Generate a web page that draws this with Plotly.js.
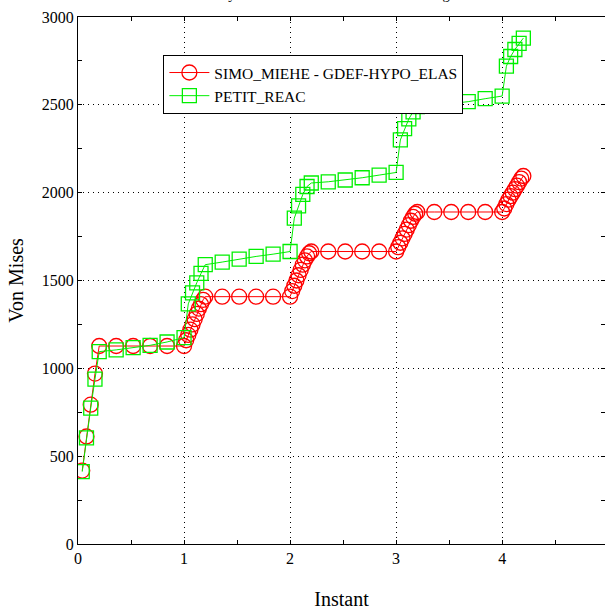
<!DOCTYPE html>
<html>
<head>
<meta charset="utf-8">
<script src="https://cdn.plot.ly/plotly-3.0.1.min.js"></script>
<style>html,body{margin:0;padding:0;background:#fff;}#chart{width:605px;height:610px;}</style>
</head>
<body>
<div id="chart"></div>
<script>
// SIMO_MIEHE - GDEF-HYPO_ELAS
var simoInstant = [0.04,0.08,0.12,0.16,0.2,0.36,0.52,0.68,0.84,1.0,
  1.02,1.04,1.06,1.08,1.1,1.12,1.14,1.16,1.18,1.2,1.36,1.52,1.68,1.84,2.0,
  2.02,2.04,2.06,2.08,2.1,2.12,2.14,2.16,2.18,2.2,2.36,2.52,2.68,2.84,3.0,
  3.02,3.04,3.06,3.08,3.1,3.12,3.14,3.16,3.18,3.2,3.36,3.52,3.68,3.84,4.0,
  4.02,4.04,4.06,4.08,4.1,4.12,4.14,4.16,4.18,4.2];
var simoVonMises = [418,612,793,970,1127,1127,1127,1127,1127,1127,
  1160,1190,1220,1250,1280,1310,1340,1365,1390,1408,1408,1408,1408,1408,1408,
  1440,1470,1500,1530,1560,1590,1615,1637,1655,1665,1665,1665,1665,1665,1665,
  1690,1715,1740,1765,1790,1815,1840,1862,1880,1890,1890,1890,1890,1890,1890,
  1910,1935,1960,1980,2000,2020,2040,2060,2080,2095];
// PETIT_REAC
var petitInstant = [0.04,0.08,0.12,0.16,0.2,0.36,0.52,0.68,0.84,1.0,
  1.04,1.08,1.12,1.16,1.2,1.36,1.52,1.68,1.84,2.0,
  2.04,2.08,2.12,2.16,2.2,2.36,2.52,2.68,2.84,3.0,
  3.04,3.08,3.12,3.16,3.2,3.36,3.52,3.68,3.84,4.0,
  4.04,4.08,4.12,4.16,4.2];
var petitVonMises = [412,604,774,939,1095,1105,1118,1131,1150,1175,
  1367,1430,1487,1540,1590,1605,1622,1637,1650,1665,
  1855,1925,1990,2035,2055,2062,2072,2085,2100,2115,
  2300,2365,2420,2460,2490,2497,2507,2518,2535,2550,
  2720,2775,2815,2850,2880];
var xTicks = [0,1,2,3,4];
var yTicks = [0,500,1000,1500,2000,2500,3000];

var serif = 'Liberation Serif, Times New Roman, serif';
var traces = [
  {x: simoInstant, y: simoVonMises, name: 'SIMO_MIEHE - GDEF-HYPO_ELAS', mode: 'lines+markers',
   line: {color: '#ff0000', width: 1},
   marker: {symbol: 'circle-open', size: 15, color: '#ff0000', line: {width: 1.3, color: '#ff0000'}}},
  {x: petitInstant, y: petitVonMises, name: 'PETIT_REAC', mode: 'lines+markers',
   line: {color: '#00f000', width: 1},
   marker: {symbol: 'square-open', size: 14, color: '#00f000', line: {width: 1.3, color: '#00f000'}}}
];
var layout = {
  width: 605, height: 610,
  margin: {l: 78, r: 0, t: 17, b: 66},
  paper_bgcolor: '#fff', plot_bgcolor: '#fff',
  font: {family: serif, size: 16, color: '#000'},
  showlegend: true,
  legend: {x: 0.162, y: 0.928, xanchor: 'left', yanchor: 'top', bgcolor: '#fff',
    bordercolor: '#000', borderwidth: 1, font: {family: serif, size: 15.5, color: '#000'},
    tracegroupgap: 0, itemwidth: 40},
  xaxis: {range: [0, 4.97], tickvals: xTicks, ticktext: xTicks.map(String),
    ticks: 'inside', ticklen: 4, tickcolor: '#000', showline: true, linecolor: '#000', linewidth: 1,
    mirror: 'ticks', showgrid: true, gridcolor: '#000', griddash: '1px,4px', gridwidth: 1, zeroline: false,
    minor: {dtick: 0.5, tick0: 0, ticks: 'inside', ticklen: 4, tickcolor: '#000', showgrid: false},
    title: {text: 'Instant', font: {family: serif, size: 20}, standoff: 30}},
  yaxis: {range: [0, 3000], tickvals: yTicks, ticktext: yTicks.map(String),
    ticks: 'inside', ticklen: 4, tickcolor: '#000', showline: true, linecolor: '#000', linewidth: 1,
    mirror: 'ticks', showgrid: true, gridcolor: '#000', griddash: '1px,4px', gridwidth: 1, zeroline: false,
    minor: {dtick: 250, tick0: 0, ticks: 'inside', ticklen: 4, tickcolor: '#000', showgrid: false},
    title: {text: 'Von Mises', font: {family: serif, size: 20}, standoff: 12}},
  annotations: [{text: 'Analyse contraintes de Von Mises en chargement', xref: 'paper', yref: 'paper',
    x: 0.501, y: 1.043, xanchor: 'center', yanchor: 'middle', showarrow: false,
    font: {family: serif, size: 14.5, color: '#000'}}]
};
Plotly.newPlot('chart', traces, layout, {displayModeBar: false, staticPlot: true});
</script>
</body>
</html>
